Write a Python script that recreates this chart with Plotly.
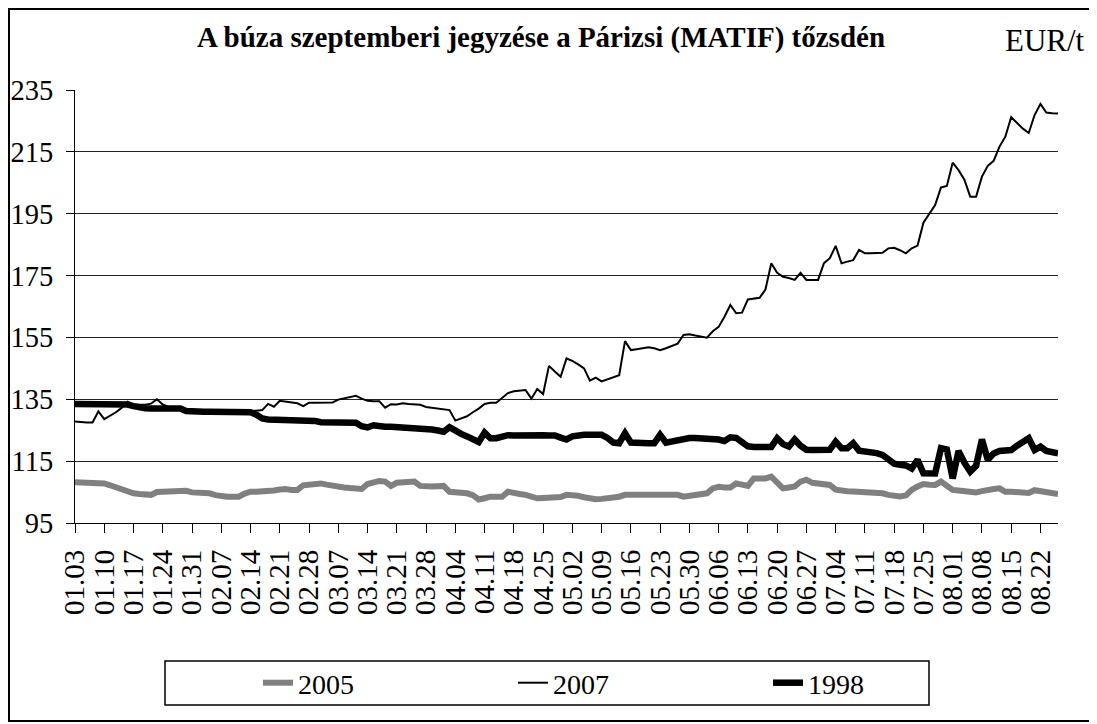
import plotly.graph_objects as go

# ---------------- data ----------------
tick_labels = ["01.03", "01.10", "01.17", "01.24", "01.31", "02.07", "02.14",
               "02.21", "02.28", "03.07", "03.14", "03.21", "03.28", "04.04",
               "04.11", "04.18", "04.25", "05.02", "05.09", "05.16", "05.23",
               "05.30", "06.06", "06.13", "06.20", "06.27", "07.04", "07.11",
               "07.18", "07.25", "08.01", "08.08", "08.15", "08.22"]
days_per_label = 5  # trading days between consecutive labels

s2005 = [
    108.2, 108.1, 108.0, 108.0, 108.0,
    107.8, 107.2, 106.5, 105.8, 105.2,
    104.6, 104.4, 104.2, 104.1, 105.0,
    105.1, 105.3, 105.5, 105.7, 105.4,
    104.9, 104.8, 104.7, 104.6, 104.0,
    103.5, 103.5, 103.5, 103.5, 104.5,
    105.1, 105.1, 105.1, 105.2, 105.5,
    105.8, 106.0, 105.7, 105.7, 107.2,
    107.4, 107.6, 107.8, 107.4, 107.0,
    106.7, 106.5, 106.3, 106.2, 106.0,
    107.6, 108.0, 108.6, 108.4, 107.0,
    108.0, 108.2, 108.3, 108.4, 107.0,
    106.7, 106.8, 106.9, 107.0, 105.1,
    105.0, 104.8, 104.6, 104.0, 102.6,
    103.0, 103.5, 103.5, 103.5, 105.1,
    104.6, 104.4, 104.1, 103.6, 103.0,
    103.1, 103.2, 103.3, 103.4, 104.1,
    104.0, 103.8, 103.3, 102.9, 102.7,
    102.8, 102.9, 103.0, 103.5, 104.1,
    104.1, 104.1, 104.1, 104.1, 104.1,
    104.1, 104.1, 104.1, 104.1, 103.5,
    103.8, 104.0, 104.3, 104.6, 106.2,
    106.7, 106.5, 106.5, 107.8, 107.2,
    107.0, 109.4, 109.4, 109.4, 110.0,
    108.0, 106.2, 106.5, 106.8, 108.4,
    109.0, 108.0, 107.7, 107.5, 107.3,
    105.8, 105.4, 105.3, 105.2, 105.1,
    105.0, 104.9, 104.7, 104.6, 104.1,
    103.6, 103.6, 103.9, 105.7, 106.8,
    107.6, 107.4, 107.3, 108.4, 106.8,
    105.7, 105.5, 105.3, 105.1, 104.9,
    105.3, 105.9, 106.0, 106.2, 105.1,
    105.1, 105.1, 105.1, 104.7, 105.6,
    105.3, 104.9, 104.6, 104.4,
]

s2007 = [
    127.8, 127.6, 127.5, 127.5, 131.1,
    128.6, 129.6, 130.8, 132.3, 134.2,
    133.2, 133.2, 133.2, 133.6, 135.0,
    133.3, 132.5, 132.2, 132.0, 131.5,
    131.2, 131.2, 131.0, 131.0, 131.0,
    130.8, 130.8, 130.8, 131.0, 131.0,
    131.2, 131.3, 131.5, 133.5, 132.6,
    134.5, 134.2, 134.0, 133.7, 132.8,
    133.9, 133.9, 133.9, 134.0, 134.0,
    134.9, 135.3, 135.6, 136.1, 135.2,
    134.5, 134.4, 134.4, 132.3, 133.4,
    133.3, 133.7, 133.5, 133.4, 133.2,
    132.5, 132.3, 132.0, 131.8, 131.5,
    128.1, 128.8, 129.5, 130.8, 132.0,
    133.5, 133.9, 133.9, 135.5, 137.0,
    137.6, 137.8, 138.0, 135.2, 138.3,
    136.7, 145.8, 144.0, 142.3, 148.2,
    147.4, 146.3, 145.0, 141.0, 142.0,
    140.8, 141.5, 142.2, 142.8, 153.8,
    150.9, 151.2, 151.5, 151.8, 151.5,
    150.9, 151.5, 152.2, 153.0, 155.8,
    156.0, 155.6, 155.2, 154.9, 157.0,
    158.4, 161.7, 165.5, 162.8, 163.0,
    167.3, 167.6, 167.8, 170.5, 179.0,
    175.9, 174.6, 174.2, 173.6, 175.9,
    173.6, 173.6, 173.6, 179.0, 180.6,
    184.6, 179.0, 179.5, 180.0, 183.3,
    182.2, 182.2, 182.3, 182.4, 183.8,
    184.0, 183.2, 182.2, 183.8, 184.7,
    192.1, 194.9, 197.8, 203.5, 204.0,
    211.5, 209.1, 206.0, 200.5, 200.5,
    207.0, 210.5, 212.1, 216.7, 219.9,
    226.2, 224.3, 222.5, 221.1, 226.9,
    230.5, 227.7, 227.5, 227.4,
]

s1998 = [
    133.5, 133.5, 133.5, 133.5, 133.5,
    133.5, 133.5, 133.5, 133.5, 133.3,
    132.8, 132.3, 132.1, 132.0, 132.0,
    132.0, 132.0, 132.0, 132.0, 131.2,
    131.0, 131.0, 131.0, 131.0, 131.0,
    130.8, 130.8, 130.8, 130.8, 130.8,
    130.8, 130.0, 128.8, 128.5, 128.5,
    128.5, 128.5, 128.5, 128.5, 128.5,
    128.5, 128.0, 127.6, 127.6, 127.6,
    127.6, 127.6, 127.6, 127.4, 126.3,
    125.9, 126.6, 126.2, 126.1, 126.1,
    126.0, 126.0, 126.0, 125.9, 125.8,
    125.6, 125.2, 124.9, 124.5, 126.0,
    124.6, 123.8, 123.0, 122.0, 121.2,
    124.2, 122.4, 122.4, 123.0, 123.4,
    123.3, 123.4, 123.3, 123.5, 123.4,
    123.4, 123.3, 123.3, 122.6, 122.0,
    123.0, 123.5, 123.5, 123.5, 123.5,
    123.5, 122.5, 121.0, 120.8, 124.0,
    121.0, 120.8, 120.8, 120.8, 120.8,
    123.5, 121.0, 121.5, 122.0, 122.5,
    122.5, 122.5, 122.5, 122.5, 122.4,
    122.0, 121.5, 122.7, 122.5, 121.0,
    119.8, 119.6, 119.5, 119.5, 119.6,
    122.4, 120.5, 119.7, 122.0, 120.0,
    118.7, 118.6, 118.6, 118.6, 118.7,
    121.3, 119.2, 119.2, 120.8, 118.4,
    118.3, 118.2, 117.6, 117.0, 115.8,
    114.2, 113.8, 113.6, 112.6, 115.4,
    111.1, 111.0, 111.0, 119.2, 118.8,
    109.4, 118.3, 114.5, 111.6, 113.5,
    122.0, 115.4, 117.5, 118.3, 118.4,
    118.6, 120.0, 121.5, 122.4, 118.6,
    119.7, 118.3, 117.8, 117.5,
]

series_names = ["2005", "2007", "1998"]
title_text = "A búza szeptemberi jegyzése a Párizsi (MATIF) tőzsdén"
unit_text = "EUR/t"
y_ticks = [95, 115, 135, 155, 175, 195, 215, 235]

# ---------------- figure ----------------
x = list(range(len(s2007)))
tick_pos = [i * days_per_label for i in range(len(tick_labels))]

FONT = "Liberation Serif"

# the page body has an 8px margin: figure is laid out in screen pixels minus 8
OFF = 8
FIG_W, FIG_H = 1097 - OFF, 724 - OFF
# plot area in screen pixels: x 75..1058, y 90..523
L, R, T, B = 75 - OFF, 1058 - OFF, 90 - OFF, 523 - OFF
W, H = R - L, B - T


def sx(xs):
    return (xs - OFF - L) / W


def sy(ys):
    return (B - (ys - OFF)) / H


fig = go.Figure()
fig.add_trace(go.Scatter(x=x, y=s2005, mode="lines", name=series_names[0],
                         line=dict(color="#808080", width=6)))
fig.add_trace(go.Scatter(x=x, y=s2007, mode="lines", name=series_names[1],
                         line=dict(color="black", width=2)))
fig.add_trace(go.Scatter(x=x, y=s1998, mode="lines", name=series_names[2],
                         line=dict(color="black", width=6.5)))

fig.update_layout(
    width=FIG_W, height=FIG_H,
    margin=dict(l=L, r=FIG_W - R, t=T, b=FIG_H - B, pad=0),
    paper_bgcolor="white", plot_bgcolor="white",
    font=dict(family=FONT, color="black", size=28),
    title=dict(text="<b>" + title_text + "</b>", font=dict(size=29, family=FONT),
               x=sx(541), xref="paper", xanchor="center",
               y=1 - (37 - OFF) / FIG_H, yref="container", yanchor="middle"),
    showlegend=True,
    legend=dict(orientation="h", x=sx(258), xanchor="left",
                y=sy(683), yanchor="middle",
                bgcolor="rgba(0,0,0,0)", borderwidth=0,
                font=dict(size=28, family=FONT),
                entrywidth=210, entrywidthmode="pixels",
                traceorder="normal"),
    xaxis=dict(range=[0, len(x) - 1], tickmode="array", tickvals=tick_pos,
               ticktext=tick_labels, tickangle=-90, ticks="outside", ticklen=9,
               tickcolor="black", tickwidth=1.2, showgrid=False, zeroline=False,
               showline=True, linecolor="black", linewidth=1.2,
               tickfont=dict(size=29, family=FONT), automargin=False,
               ticklabelstandoff=5),
    yaxis=dict(range=[95, 235], tickmode="array", tickvals=y_ticks,
               ticks="outside", ticklen=8, tickcolor="black", tickwidth=1.2,
               showgrid=True, gridcolor="#222222", gridwidth=1.2, zeroline=False,
               showline=True, linecolor="black", linewidth=1.2,
               tickfont=dict(size=28.5, family=FONT), automargin=False,
               ticklabelstandoff=7),
    shapes=[
        # outer chart border
        dict(type="rect", xref="paper", yref="paper",
             x0=sx(9), x1=sx(1094), y0=sy(721), y1=sy(9),
             line=dict(color="black", width=2), fillcolor="rgba(0,0,0,0)",
             layer="below"),
        # legend box
        dict(type="rect", xref="paper", yref="paper",
             x0=sx(165), x1=sx(929), y0=sy(705), y1=sy(661),
             line=dict(color="black", width=1.5), fillcolor="rgba(0,0,0,0)",
             layer="below"),
    ],
    annotations=[
        dict(text=unit_text, xref="paper", yref="paper", x=sx(1087), y=sy(41),
             xanchor="right", yanchor="middle", showarrow=False,
             font=dict(size=31, family=FONT)),
    ],
)

fig.write_html("out.html")
